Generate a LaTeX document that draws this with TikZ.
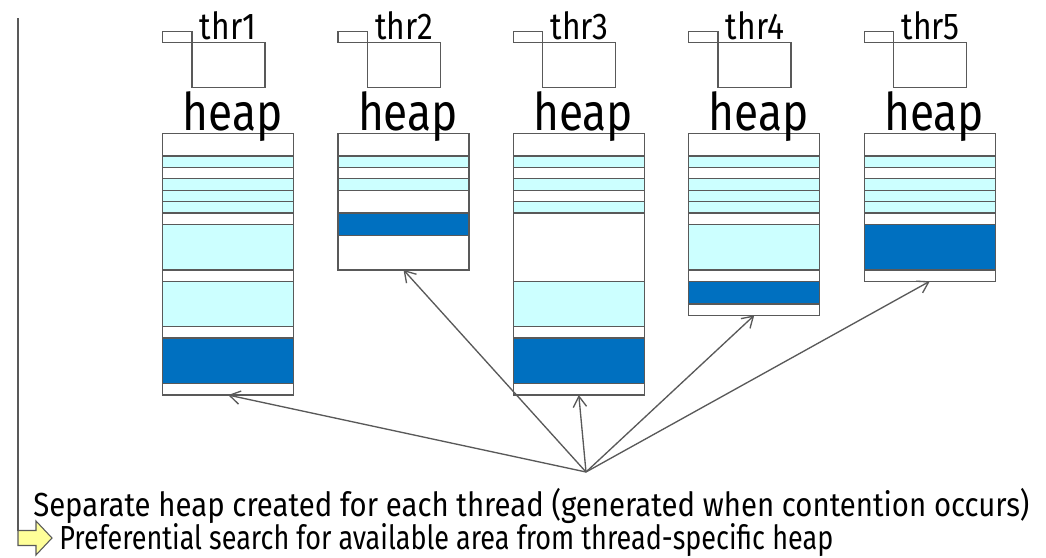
\documentclass[tikz,border=0pt]{standalone}
\usepackage{fontspec}
\setmainfont{Fira Sans}[FakeStretch=0.85]
\newfontfamily\noteFont{Fira Sans}[FakeStretch=0.88]
\newfontfamily\prefFont{Fira Sans}[FakeStretch=0.81]
\usetikzlibrary{arrows.meta}
\definecolor{cellCyan}{HTML}{CCFFFF}
\definecolor{cellBlue}{HTML}{0070C0}
\definecolor{lineGray}{HTML}{595959}
\definecolor{markYellow}{HTML}{FFFF99}
% one heap: name, left x, height in cells, list of cells/colour
\newcommand{\heapStack}[4]{%
\gdef\cellTop{0}%
\foreach \n/\c in {#4}{%
  \pgfmathsetmacro\cellBot{\cellTop+\n}%
  \draw[cell,fill=\c] (#2,133.3+\cellTop*11.38) rectangle (#2+131,133.3+\cellBot*11.38);
  \xdef\cellTop{\cellBot}%
}
\node[heapbox,minimum height=#3*8.535pt,anchor=north west] (#1) at (#2,133.3) {};
\node[heapLabel,anchor=base] (#1lbl) at (#2+70,130) {heap};
}
% one thread icon: name, left x, label
\newcommand{\threadIcon}[3]{%
\node[tabbox,anchor=north west] (#1tab) at (#2,31.3) {};
\node[winbox,anchor=north west] (#1) at (#2+29.3,42.7) {};
\node[thrLabel,anchor=base west] (#1lbl) at (#2+37,39) {#3};
}

\begin{document}
\begin{tikzpicture}[x=0.75pt,y=-0.75pt,
  cell/.style={draw=lineGray,line width=1pt},
  heapbox/.style={draw=lineGray,line width=1pt,minimum width=98.25pt,inner sep=0,outer sep=0},
  tabbox/.style={draw=lineGray,line width=0.9pt,minimum width=22pt,minimum height=8.55pt,inner sep=0,outer sep=0},
  winbox/.style={draw=lineGray,line width=0.9pt,minimum width=54.75pt,minimum height=33.75pt,inner sep=0,outer sep=0},
  thrLabel/.style={font=\fontsize{28}{30}\selectfont,inner sep=0},
  heapLabel/.style={font=\fontsize{39}{42}\selectfont,inner sep=0},
  note/.style={font=\noteFont\fontsize{25}{28}\selectfont,inner sep=0},
  ptr/.style={draw=lineGray,line width=1pt,-{Straight Barb[length=8pt,width=10pt]}},
  marker/.style={draw=lineGray,fill=markYellow,line width=0.8pt,line join=miter}]
\useasboundingbox (0,0) rectangle (1046,557);

\threadIcon{t1}{162.7}{thr1}
\threadIcon{t2}{338}{thr2}
\threadIcon{t3}{513.3}{thr3}
\threadIcon{t4}{688.7}{thr4}
\threadIcon{t5}{864.3}{thr5}

\heapStack{h1}{162.7}{23}{2/white,1/cellCyan,1/white,1/cellCyan,1/cellCyan,1/cellCyan,1/white,4/cellCyan,1/white,4/cellCyan,1/white,4/cellBlue,1/white}
\heapStack{h2}{338}{12}{2/white,1/cellCyan,1/white,1/cellCyan,2/white,2/cellBlue,3/white}
\heapStack{h3}{513.3}{23}{2/white,1/cellCyan,1/white,1/cellCyan,1/white,1/cellCyan,6/white,4/cellCyan,1/white,4/cellBlue,1/white}
\heapStack{h4}{688.7}{16}{2/white,1/cellCyan,1/white,1/cellCyan,1/cellCyan,1/cellCyan,1/white,4/cellCyan,1/white,2/cellBlue,1/white}
\heapStack{h5}{864.3}{13}{2/white,1/cellCyan,1/white,1/cellCyan,1/cellCyan,1/cellCyan,1/white,4/cellBlue,1/white}

\coordinate (src) at (586,472);
\foreach \h in {h1,h2,h3,h4,h5}
  \draw[ptr] (src) -- (\h.south);

\node[note,anchor=base west] (sep) at (33,516) {Separate heap created for each thread (generated when contention occurs)};
% yellow marker arrow with its line from the top
\coordinate (mk) at (18,530.5);
\coordinate (ltop) at (18,18);
\draw[marker] (mk) -- (36,530.5) -- (36,521) -- (52,538) -- (36,555) -- (36,545.5) -- (18,545.5) -- cycle;
\draw[lineGray,line width=1pt] (ltop) -- (mk);
\node[note,font=\prefFont\fontsize{25}{28}\selectfont,anchor=base west] (pref) at (59,549) {Preferential search for available area from thread-specific heap};
\end{tikzpicture}
\end{document}
